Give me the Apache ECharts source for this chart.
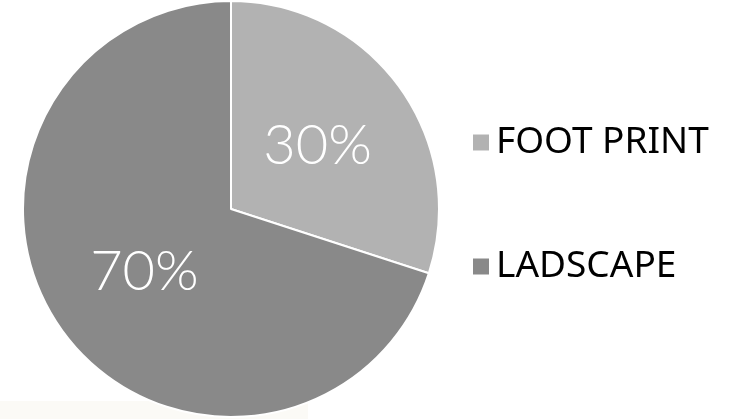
<!DOCTYPE html>
<html><head><meta charset="utf-8">
<script src="https://cdn.jsdelivr.net/npm/echarts@6/dist/echarts.min.js"></script>
<style>html,body{margin:0;padding:0;background:#fff}#c{width:733px;height:419px}</style>
</head><body><div id="c"></div>
<script>
const categories = ['FOOT PRINT', 'LADSCAPE'];
const values = [30, 70];
const colors = ['#b2b2b2', '#898989'];

const chart = echarts.init(document.getElementById('c'), null, {renderer: 'canvas'});
chart.setOption({
  backgroundColor: '#ffffff',
  animation: false,
  graphic: [{type: 'rect', shape: {x: 0, y: 401, width: 308, height: 18}, style: {fill: '#fbfaf6'}, z: -10}],
  legend: {
    orient: 'vertical', left: 466, top: 119, itemGap: 87,
    itemWidth: 18, itemHeight: 18, icon: 'rect',
    textStyle: {fontFamily: 'Noto Sans', fontSize: 37, color: '#000', padding: [6, 0, 0, 1]},
    data: categories
  },
  series: [{
    type: 'pie', center: [231, 209], radius: [0, 208],
    startAngle: 90, clockwise: true,
    itemStyle: {borderColor: '#fff', borderWidth: 2},
    label: {position: 'inside', formatter: '{c}%', color: '#fff', fontFamily: 'Lato', fontWeight: 300, fontSize: 56},
    labelLine: {show: false},
    data: categories.map((n, i) => ({name: n, value: values[i], itemStyle: {color: colors[i]}}))
  }]
});
</script></body></html>
